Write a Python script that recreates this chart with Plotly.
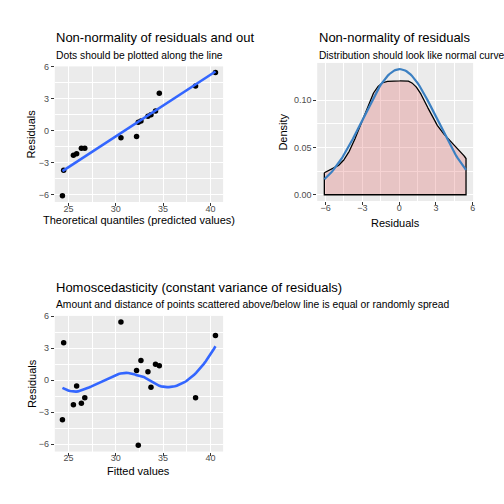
import numpy as np
import plotly.graph_objects as go

# ---- data ----
fitted_values = [24.37, 24.50, 25.53, 25.87, 26.37, 26.73, 30.55, 32.20,
                 32.38, 32.66, 33.40, 33.72, 34.20, 34.60, 38.43, 40.53]
residuals = [-3.70, 3.50, -2.30, -0.55, -2.15, -1.65, 5.45, 0.90,
             -6.10, 1.85, 0.80, -0.65, 1.50, 1.35, -1.65, 4.20]

title1 = "Non-normality of residuals and out"
subtitle1 = "Dots should be plotted along the line"
title2 = "Non-normality of residuals"
subtitle2 = "Distribution should look like normal curve"
title3 = "Homoscedasticity (constant variance of residuals)"
subtitle3 = "Amount and distance of points scattered above/below line is equal or randomly spread"

xt_fit = [25, 30, 35, 40]
yt_res = [-6, -3, 0, 3, 6]
yt_dens = [0.0, 0.05, 0.10]
yt_dens_text = ["0.00", "0.05", "0.10"]

# ---- derived statistics ----
fv = np.array(fitted_values)
rs = np.array(residuals)
qx = np.sort(fv)
qy = np.sort(rs)

# lm line for Q-Q panel
b1, b0 = np.polyfit(qx, qy, 1)
lx = np.linspace(qx.min(), qx.max(), 80)
ly = b0 + b1 * lx


# loess (span 0.75, degree 2) with kd-tree vertex + cubic Hermite interpolation
def local_fit(x, y, x0, q):
    n = len(x)
    d = np.abs(x - x0)
    h = np.sort(d)[q - 1]
    u = np.clip(d / h, 0, 1)
    w = (1 - u ** 3) ** 3
    X = np.vstack([np.ones(n), x - x0, (x - x0) ** 2]).T
    WX = X * w[:, None]
    beta = np.linalg.solve(X.T @ WX, WX.T @ y)
    return beta[0], beta[1]


def loess(x, y, xs, span=0.75, cell=0.2):
    n = len(x)
    q = int(np.floor(n * span))
    fc = int(np.floor(n * span * cell))
    xsrt = np.sort(x)
    lo_, hi_ = xsrt[0], xsrt[-1]
    mu = 0.005 * (hi_ - lo_)
    verts = {lo_ - mu, hi_ + mu}

    def split(l, u):  # 0-based inclusive indices
        if (u - l) + 1 <= fc:
            return
        m = (l + u + 2) // 2 - 1
        verts.add(xsrt[m])
        split(l, m)
        split(m + 1, u)

    split(0, n - 1)
    vx = np.array(sorted(verts))
    vals = np.array([local_fit(x, y, v, q) for v in vx])
    vy, vs = vals[:, 0], vals[:, 1]
    out = []
    for x0 in xs:
        i = min(np.searchsorted(vx, x0, side="right") - 1, len(vx) - 2)
        hh = vx[i + 1] - vx[i]
        t = (x0 - vx[i]) / hh
        h00 = 2 * t ** 3 - 3 * t ** 2 + 1
        h10 = t ** 3 - 2 * t ** 2 + t
        h01 = -2 * t ** 3 + 3 * t ** 2
        h11 = t ** 3 - t ** 2
        out.append(h00 * vy[i] + h10 * hh * vs[i] + h01 * vy[i + 1] + h11 * hh * vs[i + 1])
    return np.array(out)


sx = np.linspace(fv.min(), fv.max(), 80)
sy = loess(fv, rs, sx)

# KDE (bw.nrd0)
sd = rs.std(ddof=1)
iqr = np.percentile(rs, 75) - np.percentile(rs, 25)
bw = 0.9 * min(sd, iqr / 1.34) * len(rs) ** -0.2
kx = np.linspace(rs.min(), rs.max(), 512)
ky = np.exp(-0.5 * ((kx[:, None] - rs[None, :]) / bw) ** 2).sum(1) / (len(rs) * bw * np.sqrt(2 * np.pi))
mu_ = rs.mean()
nx = np.linspace(rs.min(), rs.max(), 101)
ny = np.exp(-0.5 * ((nx - mu_) / sd) ** 2) / (sd * np.sqrt(2 * np.pi))


def expand(lo, hi, f=0.05):
    r = hi - lo
    return [lo - f * r, hi + f * r]


# ---- figure ----
FONT = "Liberation Sans, Arial, sans-serif"
BG = "#EBEBEB"
W = 504.0

fig = go.Figure()

# Panel 1: Q-Q
fig.add_trace(go.Scatter(x=qx, y=qy, mode="markers", marker=dict(color="black", size=5.5),
                         xaxis="x", yaxis="y", hoverinfo="skip"))
fig.add_trace(go.Scatter(x=lx, y=ly, mode="lines", line=dict(color="#3366FF", width=2.6),
                         xaxis="x", yaxis="y", hoverinfo="skip"))

# Panel 2: density
px_ = np.concatenate([kx, [kx[-1], kx[0], kx[0]]])
py_ = np.concatenate([ky, [0, 0, ky[0]]])
fig.add_trace(go.Scatter(x=px_, y=py_, mode="lines", fill="toself",
                         fillcolor="rgba(220,80,80,0.25)", line=dict(color="black", width=1.3),
                         xaxis="x2", yaxis="y2", hoverinfo="skip"))
fig.add_trace(go.Scatter(x=nx, y=ny, mode="lines", line=dict(color="#3C80C2", width=2.2),
                         xaxis="x2", yaxis="y2", hoverinfo="skip"))

# Panel 3: residuals vs fitted
fig.add_trace(go.Scatter(x=sx, y=sy, mode="lines", line=dict(color="#3366FF", width=2.6),
                         xaxis="x3", yaxis="y3", hoverinfo="skip"))
fig.add_trace(go.Scatter(x=fv, y=rs, mode="markers", marker=dict(color="black", size=5.5),
                         xaxis="x3", yaxis="y3", hoverinfo="skip"))


def mids(v):
    return [(a + b) / 2 for a, b in zip(v[:-1], v[1:])]


def ax(domain, rng, tickvals, ticktext=None, anchor=None, standoff=0):
    d = dict(domain=domain, range=rng, tickvals=tickvals, showgrid=True, gridcolor="white",
             gridwidth=1.1, zeroline=False, showline=False, ticks="outside", ticklen=3,
             tickwidth=1, tickcolor="#333333", ticklabelstandoff=standoff,
             tickfont=dict(family=FONT, size=9, color="#4D4D4D"),
             minor=dict(tickvals=mids(tickvals), showgrid=True, gridcolor="white", gridwidth=0.5),
             fixedrange=True, anchor=anchor)
    if ticktext is not None:
        d["ticktext"] = ticktext
    return d


xr1 = expand(fv.min(), fv.max())
yr1 = expand(rs.min(), rs.max())
xr2 = expand(rs.min(), rs.max())
dmax = max(ky.max(), ny.max())
yr2 = [-0.05 * dmax, 1.05 * dmax]
yr3 = expand(min(rs.min(), sy.min()), max(rs.max(), sy.max()))

fig.update_layout(
    width=504, height=504, margin=dict(l=0, r=0, t=0, b=0),
    paper_bgcolor="white", plot_bgcolor=BG, showlegend=False,
    font=dict(family=FONT, color="black"),
    xaxis=ax([55 / W, 224 / W], xr1, xt_fit, anchor="y", standoff=-5),
    yaxis=ax([1 - 199 / W, 1 - 62 / W], yr1, yt_res, anchor="x"),
    xaxis2=ax([318.5 / W, 475 / W], xr2, yt_res, anchor="y2", standoff=-5),
    yaxis2=ax([1 - 198 / W, 1 - 58.5 / W], yr2, yt_dens, yt_dens_text, anchor="x2"),
    xaxis3=ax([55 / W, 224 / W], xr1, xt_fit, anchor="y3", standoff=-5),
    yaxis3=ax([1 - 451 / W, 1 - 314 / W], yr3, yt_res, anchor="x3"),
)


def ann(text, x, y, size, angle=0, xanchor="left", color="black"):
    fig.add_annotation(text=text, x=x / W, y=1 - y / W, xref="paper", yref="paper",
                       xanchor=xanchor, yanchor="middle", showarrow=False, textangle=angle,
                       font=dict(family=FONT, size=size, color=color))


# titles & subtitles
ann(title1, 54, 33, 13)
ann(subtitle1, 54, 51, 10.3)
ann(title2, 318, 33, 13)
ann(subtitle2, 318, 51, 10.2)
ann(title3, 54, 285, 13)
ann(subtitle3, 54, 303, 10.3)

# axis titles
ann("Theoretical quantiles (predicted values)", 139.5, 217, 11, xanchor="center")
ann("Residuals", 31.5, 130.5, 11, angle=-90, xanchor="center")
ann("Residuals", 397, 220, 11, xanchor="center")
ann("Density", 284, 128, 11, angle=-90, xanchor="center")
ann("Fitted values", 139.5, 471, 11, xanchor="center")
ann("Residuals", 31.5, 382.5, 11, angle=-90, xanchor="center")

fig.write_html("out.html", config={"displayModeBar": False},
               post_script="document.body.style.margin='0';document.body.style.overflow='hidden';")
